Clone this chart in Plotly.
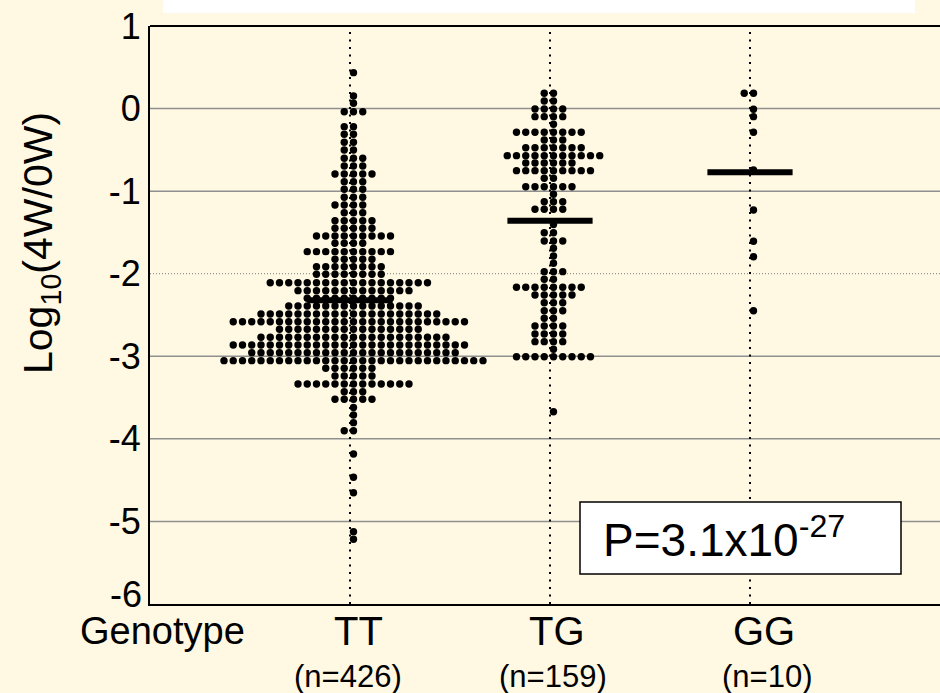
import plotly.graph_objects as go

# ---------------- data ----------------
categories = ["TT", "TG", "GG"]
cat_pos = [1, 2, 3]
n_labels = ["(n=426)", "(n=159)", "(n=10)"]

# beeswarm rows: level of log10(4W/0W) and number of dots in that row
tt_levels = [0.435, 0.153, 0.064, -0.038, -0.219, -0.311, -0.408, -0.501, -0.602, -0.695,
             -0.792, -0.885, -0.977, -1.074, -1.167, -1.261, -1.358, -1.450, -1.543, -1.631,
             -1.733, -1.825, -1.915, -2.007, -2.109, -2.205, -2.297, -2.391, -2.488, -2.581,
             -2.673, -2.770, -2.863, -2.956, -3.053, -3.145, -3.238, -3.335, -3.429, -3.521,
             -3.620, -3.711, -3.804, -3.901, -4.183, -4.465, -4.652, -5.124, -5.216]
tt_counts = [1, 1, 1, 3, 2, 2, 2, 2, 3, 3,
             5, 3, 3, 3, 4, 3, 5, 5, 9, 4,
             10, 5, 8, 8, 18, 13, 10, 15, 20, 26,
             16, 21, 26, 23, 29, 6, 5, 13, 3, 5,
             1, 1, 1, 2, 1, 1, 1, 1, 1]

tg_levels = [0.185, 0.092, -0.005, -0.098, -0.190, -0.287, -0.380, -0.474, -0.570, -0.659,
             -0.752, -0.844, -0.946, -1.038, -1.128, -1.220, -1.404, -1.503, -1.603, -1.692,
             -1.785, -1.874, -1.975, -2.067, -2.164, -2.257, -2.351, -2.448, -2.540, -2.633,
             -2.730, -2.823, -2.915, -3.005, -3.671]
tg_counts = [2, 2, 4, 4, 1, 8, 3, 7, 11, 6,
             9, 2, 6, 1, 3, 4, 1, 2, 3, 1,
             1, 1, 3, 2, 8, 5, 3, 3, 2, 4,
             4, 4, 1, 9, 1]

gg_levels = [0.185, -0.008, -0.098, -0.287, -0.744, -1.228, -1.607, -1.794, -2.448]
gg_counts = [2, 1, 1, 1, 1, 1, 1, 1, 1]

group_means = [-2.32, -1.36, -0.77]

y_tick_vals = [1, 0, -1, -2, -3, -4, -5]
y_tick_text = ["1", "0", "-1", "-2", "-3", "-4", "-5"]
y_bottom_label = "-6"
solid_grid = [0, -1, -3, -4, -5]
dotted_grid = [-2]
p_label = "P=3.1x10<sup>-27</sup>"
y_title = "Log<sub>10</sub>(4W/0W)"
x_title = "Genotype"

# ---------------- layout geometry ----------------
W, H = 940, 693
PL, PR, PT, PB = 150, 940, 26, 604
X_MAX = 3.95
Y_MIN, Y_MAX = -6, 1
PX_X = (PR - PL) / X_MAX
FONT = "Liberation Sans, Arial, sans-serif"
BG = "rgb(255,248,227)"

def xp(px):
    return (px - PL) / (PR - PL)

def yp(py):
    return (PB - py) / (PB - PT)

DOT_STEP = 9.25   # px between neighbouring dots
DOT_SHIFT = 3.5   # px offset of the central column

def swarm(cat, levels, counts):
    xs, ys = [], []
    for lv, n in zip(levels, counts):
        for k in range(-(n // 2), n - n // 2):
            xs.append(cat + (DOT_SHIFT + DOT_STEP * k) / PX_X)
            ys.append(lv)
    return xs, ys

fig = go.Figure()

for cat, lv, cn in zip(cat_pos, [tt_levels, tg_levels, gg_levels], [tt_counts, tg_counts, gg_counts]):
    xs, ys = swarm(cat, lv, cn)
    fig.add_trace(go.Scatter(x=xs, y=ys, mode="markers",
                             marker=dict(size=7.4, color="black", line=dict(width=0)),
                             showlegend=False, hoverinfo="skip", cliponaxis=False))

# vertical dotted category lines
for cat in cat_pos:
    fig.add_trace(go.Scatter(x=[cat, cat], y=[Y_MIN, Y_MAX], mode="lines",
                             line=dict(color="black", width=2, dash="2px,5.5px"),
                             showlegend=False, hoverinfo="skip"))

# mean bars
HALF = 0.213
for cat, m in zip(cat_pos, group_means):
    fig.add_trace(go.Scatter(x=[cat - HALF, cat + HALF], y=[m, m], mode="lines",
                             line=dict(color="black", width=6),
                             showlegend=False, hoverinfo="skip"))

shapes = []
for g in solid_grid:
    shapes.append(dict(type="line", xref="paper", yref="y", x0=0, x1=1, y0=g, y1=g,
                       line=dict(color="#8f8f8f", width=1.5), layer="below"))
for g in dotted_grid:
    shapes.append(dict(type="line", xref="paper", yref="y", x0=0, x1=1, y0=g, y1=g,
                       line=dict(color="#7a7a7a", width=1, dash="1px,2px"), layer="below"))
# top frame line
shapes.append(dict(type="line", xref="paper", yref="paper", x0=0, x1=1, y0=1, y1=1,
                   line=dict(color="black", width=2)))
# white box at the top edge
shapes.append(dict(type="rect", xref="paper", yref="paper", x0=xp(163), x1=xp(915),
                   y0=yp(13), y1=yp(-2), fillcolor="white", line=dict(width=0)))
# P-value box
shapes.append(dict(type="rect", xref="paper", yref="paper", x0=xp(580), x1=xp(901),
                   y0=yp(574), y1=yp(502), fillcolor="white",
                   line=dict(color="black", width=1.5), layer="above"))

annotations = [
    dict(x=xp(601), y=yp(537), xref="paper", yref="paper", text=p_label, showarrow=False,
         xanchor="left", yanchor="middle", font=dict(family=FONT, size=46, color="black")),
    dict(x=xp(41), y=yp(243), xref="paper", yref="paper", text=y_title, showarrow=False,
         textangle=-90, xanchor="center", yanchor="middle",
         font=dict(family=FONT, size=41, color="black")),
    dict(x=xp(162), y=yp(631), xref="paper", yref="paper", text=x_title, showarrow=False,
         xanchor="center", yanchor="middle", font=dict(family=FONT, size=38, color="black")),
    dict(x=xp(144), y=yp(594), xref="paper", yref="paper", text=y_bottom_label, showarrow=False,
         xanchor="right", yanchor="middle", font=dict(family=FONT, size=36, color="black")),
]
cat_label_px = [358, 557, 764]
n_label_px = [348, 553, 767]
for lab, nl, cx, nx in zip(categories, n_labels, cat_label_px, n_label_px):
    annotations.append(dict(x=xp(cx), y=yp(631), xref="paper", yref="paper", text=lab,
                            showarrow=False, xanchor="center", yanchor="middle",
                            font=dict(family=FONT, size=40, color="black")))
    annotations.append(dict(x=xp(nx), y=yp(676), xref="paper", yref="paper", text=nl,
                            showarrow=False, xanchor="center", yanchor="middle",
                            font=dict(family=FONT, size=31, color="black")))

fig.update_layout(
    width=W, height=H,
    margin=dict(l=PL, r=W - PR, t=PT, b=H - PB, pad=0),
    paper_bgcolor=BG, plot_bgcolor=BG,
    shapes=shapes, annotations=annotations,
    xaxis=dict(range=[0, X_MAX], showgrid=False, zeroline=False, showticklabels=False,
               showline=True, linecolor="black", linewidth=2, ticks="", fixedrange=True),
    yaxis=dict(range=[Y_MIN, Y_MAX], showgrid=False, zeroline=False,
               tickvals=y_tick_vals, ticktext=y_tick_text, ticks="",
               tickfont=dict(family=FONT, size=36, color="black"),
               showline=True, linecolor="black", linewidth=2, fixedrange=True),
)

fig.write_html("out.html", config={"displayModeBar": False},
               post_script="document.body.style.margin='0';document.body.style.overflow='hidden';"
                           "document.body.style.background='" + BG + "';")
